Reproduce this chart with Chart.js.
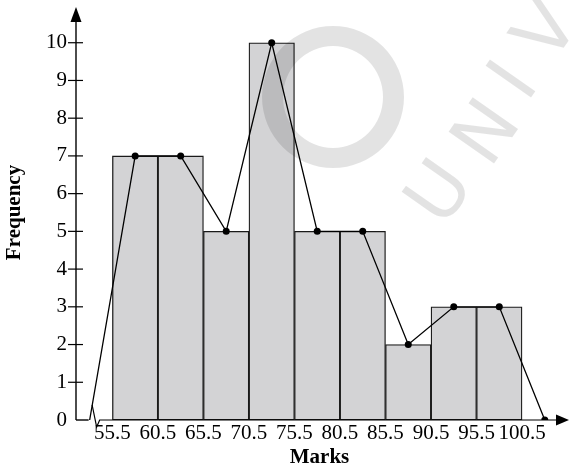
<!DOCTYPE html>
<html>
<head>
<meta charset="utf-8">
<script src="https://cdn.jsdelivr.net/npm/chart.js@4.4.1/dist/chart.umd.min.js"></script>
<style>
  html, body { margin: 0; padding: 0; background: #fff; }
  #chart1 { display: block; }
</style>
</head>
<body>
<canvas id="chart1" width="569" height="470"></canvas>
<script>
// histogram + frequency polygon (Marks vs Frequency)
const classEdges = [55.5, 60.5, 65.5, 70.5, 75.5, 80.5, 85.5, 90.5, 95.5, 100.5];
const classMids = [58, 63, 68, 73, 78, 83, 88, 93, 98];
const frequency = [7, 7, 5, 10, 5, 5, 2, 3, 3];
const polygonMarks = [53, 58, 63, 68, 73, 78, 83, 88, 93, 98, 103];
const polygonFreq = [0, 7, 7, 5, 10, 5, 5, 2, 3, 3, 0];
const yTicks = [1, 2, 3, 4, 5, 6, 7, 8, 9, 10];

const serif = "'Liberation Serif', 'Times New Roman', serif";

// tegner akserne selv: pile, streger der krydser aksen og knækket på x-aksen
const axesArrows = {
    id: 'axesArrows',
    afterDraw(chart) {
        const { ctx, chartArea, scales: { x, y } } = chart;
        const left = chartArea.left, bottom = chartArea.bottom, right = chartArea.right;
        ctx.save();
        ctx.strokeStyle = '#000';
        ctx.fillStyle = '#000';
        ctx.lineWidth = 1.4;

        // y-akse
        ctx.beginPath();
        ctx.moveTo(left, bottom);
        ctx.lineTo(left, chartArea.top + 10);
        ctx.stroke();
        ctx.beginPath();
        ctx.moveTo(left, chartArea.top + 2);
        ctx.lineTo(left - 5.5, chartArea.top + 17);
        ctx.lineTo(left + 5.5, chartArea.top + 17);
        ctx.closePath();
        ctx.fill();

        // små streger ved 1..10
        ctx.lineWidth = 1.2;
        yTicks.forEach(v => {
            const py = y.getPixelForValue(v);
            ctx.beginPath();
            ctx.moveTo(left - 8, py);
            ctx.lineTo(left + 7, py);
            ctx.stroke();
        });

        // x-akse med knæk
        const xb = x.getPixelForValue(polygonMarks[0]);
        ctx.lineWidth = 1.4;
        ctx.beginPath();
        ctx.moveTo(left, bottom);
        ctx.lineTo(xb - 1, bottom);
        ctx.stroke();
        ctx.lineWidth = 1.2;
        ctx.beginPath();
        ctx.moveTo(xb + 2.5, bottom - 15);
        ctx.lineTo(xb + 7, bottom + 7);
        ctx.lineTo(xb + 10, bottom);
        ctx.lineTo(right - 4, bottom);
        ctx.stroke();
        ctx.beginPath();
        ctx.moveTo(right + 6, bottom);
        ctx.lineTo(right - 7, bottom - 5.5);
        ctx.lineTo(right - 7, bottom + 5.5);
        ctx.closePath();
        ctx.fill();
        ctx.restore();
    }
};

// svagt vandmærke
const watermark = {
    id: 'watermark',
    afterDraw(chart) {
        const { ctx } = chart;
        ctx.save();
        ctx.fillStyle = 'rgba(0,0,0,0.11)';
        ctx.beginPath();
        ctx.ellipse(333, 97, 71, 71, 0, 0, Math.PI * 2);
        ctx.ellipse(333, 97, 50, 51, 0, 0, Math.PI * 2, true);
        ctx.fill('evenodd');
        ctx.font = "76px 'DejaVu Sans', sans-serif";
        ctx.textAlign = 'center';
        ctx.textBaseline = 'middle';
        const letters = ['U', 'N', 'I', 'V'];
        const pos = [[443, 195], [490, 135], [517, 83], [550, 33]];
        letters.forEach((ch, i) => {
            ctx.save();
            ctx.translate(pos[i][0], pos[i][1]);
            ctx.rotate(-55 * Math.PI / 180);
            ctx.fillText(ch, 0, 0);
            ctx.restore();
        });
        ctx.restore();
    }
};

const ctx = document.querySelector('#chart1');
new Chart(ctx, {
    type: 'bar',
    data: {
        datasets: [
            {
                type: 'line',
                label: 'Frequency polygon',
                data: polygonMarks.map((m, i) => ({ x: m, y: polygonFreq[i] })),
                borderColor: '#000',
                borderWidth: 1.3,
                pointRadius: polygonMarks.map((m, i) => i === 0 ? 0 : 3.5),
                pointBackgroundColor: '#000',
                pointBorderWidth: 0,
                tension: 0,
                order: 0
            },
            {
                type: 'bar',
                label: 'Frequency',
                data: classMids.map((m, i) => ({ x: m, y: frequency[i] })),
                backgroundColor: '#d3d3d5',
                borderColor: '#1a1a1a',
                borderWidth: 1.3,
                borderSkipped: false,
                barPercentage: 1,
                categoryPercentage: 1,
                order: 1
            }
        ]
    },
    options: {
        responsive: false,
        animation: false,
        layout: { padding: { top: 5, right: 6, left: 0, bottom: 0 } },
        plugins: {
            legend: { display: false },
            tooltip: { enabled: false }
        },
        scales: {
            x: {
                type: 'linear',
                min: 51.5,
                max: 105,
                offset: false,
                grid: { display: false, drawTicks: false },
                border: { display: false },
                afterBuildTicks: s => { s.ticks = classEdges.map(v => ({ value: v })); },
                afterFit: s => { s.height = 50; s.paddingLeft = 0; s.paddingRight = 0; },
                ticks: {
                    autoSkip: false,
                    maxRotation: 0,
                    padding: 1,
                    color: '#000',
                    font: { family: serif, size: 21 },
                    callback: v => v.toFixed(1)
                },
                title: {
                    display: true,
                    text: 'Marks',
                    color: '#000',
                    font: { family: serif, size: 21, weight: 'bold' },
                    padding: { top: 0, bottom: 0 }
                }
            },
            y: {
                min: 0,
                max: 11,
                grid: { display: false, drawTicks: false },
                border: { display: false },
                afterFit: s => { s.width = 76; s.paddingTop = 0; s.paddingBottom = 0; },
                ticks: {
                    stepSize: 1,
                    padding: 9,
                    color: '#000',
                    font: { family: serif, size: 21 },
                    callback: v => v <= 10 ? v : ''
                },
                title: {
                    display: true,
                    text: 'Frequency',
                    color: '#000',
                    font: { family: serif, size: 21, weight: 'bold' },
                    padding: { top: 2, bottom: 0 }
                }
            }
        }
    },
    plugins: [axesArrows, watermark]
});
</script>
</body>
</html>
